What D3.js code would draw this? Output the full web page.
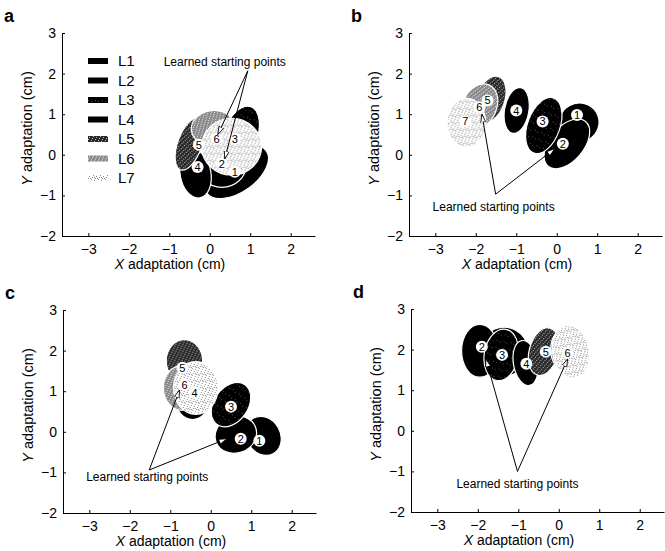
<!DOCTYPE html>
<html>
<head>
<meta charset="utf-8">
<script src="https://cdn.jsdelivr.net/npm/d3@7"></script>
<style>
  body { margin: 0; background: #fff; }
  text { font-family: "Liberation Sans", Arial, sans-serif; }
</style>
</head>
<body>
<svg></svg>
<script>
const SIZE = { width: 665, height: 551 };
const PLOT = { width: 253, height: 203 };

const LEVELS = ['L1', 'L2', 'L3', 'L4', 'L5', 'L6', 'L7'];
const X_TICKS = [-3, -2, -1, 0, 1, 2];
const Y_TICKS = [-2, -1, 0, 1, 2, 3];

// adaptation ellipses per panel (cm): level, centre, semi-axes, tilt, label position
const ellipsesA = [
  { lev: 1, cx: 0.66, cy: -0.42, rx: 0.9, ry: 0.5, rot: -35, lx: 0.62, ly: -0.42 },
  { lev: 2, cx: 0.3, cy: -0.25, rx: 0.6, ry: 0.55, rot: 0, lx: 0.3, ly: -0.22 },
  { lev: 3, cx: 0.75, cy: 0.45, rx: 0.42, ry: 0.78, rot: 20, lx: 0.62, ly: 0.4 },
  { lev: 4, cx: -0.35, cy: -0.47, rx: 0.38, ry: 0.6, rot: -10, lx: -0.3, ly: -0.3 },
  { lev: 5, cx: -0.49, cy: 0.27, rx: 0.3, ry: 0.68, rot: 20, lx: -0.27, ly: 0.25 },
  { lev: 6, cx: 0.07, cy: 0.67, rx: 0.53, ry: 0.42, rot: -10, lx: 0.17, ly: 0.4 },
  { lev: 7, cx: 0.54, cy: 0.2, rx: 0.74, ry: 0.7, rot: 0, lx: null, ly: null }
];
const ellipsesB = [
  { lev: 1, cx: 0.55, cy: 0.79, rx: 0.5, ry: 0.48, rot: -30, lx: 0.5, ly: 0.98 },
  { lev: 2, cx: 0.25, cy: 0.27, rx: 0.72, ry: 0.42, rot: -50, lx: 0.15, ly: 0.27 },
  { lev: 3, cx: -0.32, cy: 0.72, rx: 0.4, ry: 0.72, rot: 20, lx: -0.35, ly: 0.82 },
  { lev: 4, cx: -0.99, cy: 1.09, rx: 0.3, ry: 0.57, rot: 10, lx: -1.0, ly: 1.09 },
  { lev: 5, cx: -1.64, cy: 1.36, rx: 0.35, ry: 0.6, rot: 20, lx: -1.71, ly: 1.34 },
  { lev: 6, cx: -1.91, cy: 1.19, rx: 0.42, ry: 0.58, rot: 25, lx: -1.91, ly: 1.17 },
  { lev: 7, cx: -2.23, cy: 0.79, rx: 0.48, ry: 0.6, rot: 0, lx: -2.26, ly: 0.82 }
];
const ellipsesC = [
  { lev: 1, cx: 1.3, cy: -0.1, rx: 0.42, ry: 0.5, rot: -30, lx: 1.2, ly: -0.22 },
  { lev: 2, cx: 0.62, cy: -0.07, rx: 0.52, ry: 0.45, rot: -20, lx: 0.74, ly: -0.17 },
  { lev: 3, cx: 0.5, cy: 0.67, rx: 0.42, ry: 0.6, rot: 35, lx: 0.5, ly: 0.62 },
  { lev: 4, cx: -0.45, cy: 0.75, rx: 0.4, ry: 0.45, rot: 0, lx: -0.4, ly: 0.96 },
  { lev: 5, cx: -0.65, cy: 1.75, rx: 0.45, ry: 0.52, rot: 0, lx: -0.7, ly: 1.58 },
  { lev: 6, cx: -0.72, cy: 1.08, rx: 0.45, ry: 0.55, rot: 0, lx: -0.65, ly: 1.16 },
  { lev: 7, cx: -0.37, cy: 1.08, rx: 0.55, ry: 0.65, rot: 0, lx: null, ly: null }
];
const ellipsesD = [
  { lev: 1, cx: -1.35, cy: 1.95, rx: 0.6, ry: 0.6, rot: 0, lx: null, ly: null },
  { lev: 2, cx: -1.95, cy: 1.97, rx: 0.45, ry: 0.65, rot: 0, lx: -1.9, ly: 2.07 },
  { lev: 3, cx: -1.42, cy: 1.87, rx: 0.42, ry: 0.64, rot: 10, lx: -1.4, ly: 1.87 },
  { lev: 4, cx: -0.82, cy: 1.67, rx: 0.3, ry: 0.56, rot: -10, lx: -0.8, ly: 1.65 },
  { lev: 5, cx: -0.37, cy: 1.95, rx: 0.36, ry: 0.6, rot: 15, lx: -0.32, ly: 1.95 },
  { lev: 6, cx: 0.2, cy: 2.0, rx: 0.4, ry: 0.55, rot: 0, lx: 0.22, ly: 1.92 },
  { lev: 7, cx: 0.3, cy: 1.95, rx: 0.45, ry: 0.66, rot: -10, lx: null, ly: null }
];

// "Learned starting points" callouts (cm)
const startA = { text: [0.37, 2.19], apex: [0.94, 2.07], tips: [[0.2, 0.5], [0.37, -0.1]] };
const startB = { text: [-1.56, -1.38], apex: [-1.51, -0.97], tips: [[-1.85, 1.0], [-0.05, 0.15]] };
const startC = { text: [-1.57, -1.21], apex: [-1.52, -0.94], tips: [[-0.77, 1.03], [0.4, -0.17]] };
const startD = { text: [-1.02, -1.4], apex: [-1.02, -1.0], tips: [[-1.8, 1.77], [0.22, 1.77]] };

const PANELS = [
  { id: 'a', left: 62, top: 33, ell: ellipsesA, ann: startA, legend: true },
  { id: 'b', left: 409, top: 33, ell: ellipsesB, ann: startB },
  { id: 'c', left: 63, top: 310, ell: ellipsesC, ann: startC },
  { id: 'd', left: 411, top: 309, ell: ellipsesD, ann: startD }
];

const x = d3.scaleLinear().domain([-3.65, 2.6]).range([0, PLOT.width]);
const y = d3.scaleLinear().domain([-2, 3]).range([PLOT.height, 0]);
const kx = x(1) - x(0);
const ky = y(0) - y(1);

const svg = d3.select('svg')
  .attr('width', SIZE.width)
  .attr('height', SIZE.height)
  .style('background', '#fff');

const defs = svg.append('defs');

// stipple textures for the lighter levels
const DOTS = [[0, 0], [3, 1], [5, 4], [1, 5], [4, 6], [6, 2], [2, 3]];
const stipple = function(id, bg, dot, pts) {
  const p = defs.append('pattern')
    .attr('id', id)
    .attr('width', 7).attr('height', 7)
    .attr('patternUnits', 'userSpaceOnUse');
  p.append('rect').attr('width', 7).attr('height', 7).attr('fill', bg);
  pts.forEach(([a, b]) => p.append('rect')
    .attr('x', a).attr('y', b).attr('width', 1).attr('height', 1).attr('fill', dot));
};
stipple('tex3', '#000', '#555', DOTS.slice(0, 2));
stipple('tex5', '#2a2a2a', '#bbb', DOTS);
stipple('tex6', '#8a8a8a', '#eee', DOTS);
stipple('tex7', '#fff', '#8a8a8a', DOTS.concat([[6, 6], [2, 0]]));

const FILLS = ['#000', '#000', 'url(#tex3)', '#000', 'url(#tex5)', 'url(#tex6)', 'url(#tex7)'];

defs.append('marker')
  .attr('id', 'tri')
  .attr('markerUnits', 'userSpaceOnUse')
  .attr('markerWidth', 10).attr('markerHeight', 8)
  .attr('refX', 8).attr('refY', 3)
  .attr('orient', 'auto')
  .append('path')
  .attr('d', 'M0,0.5 L8,3 L0,5.5 Z')
  .attr('fill', '#fff')
  .attr('stroke', '#000')
  .attr('stroke-width', 0.8);

const drawPanel = function(p) {
  const g = svg.append('g').attr('transform', `translate(${p.left},${p.top})`);

  g.append('text')
    .attr('x', -58).attr('y', -11)
    .attr('font-size', 18).attr('font-weight', 'bold')
    .text(p.id);

  // ellipses, L1 at the back
  g.selectAll('ellipse')
    .data(p.ell)
    .join('ellipse')
    .attr('transform', d => `translate(${x(d.cx)},${y(d.cy)}) rotate(${d.rot})`)
    .attr('rx', d => d.rx * kx)
    .attr('ry', d => d.ry * ky)
    .attr('fill', d => FILLS[d.lev - 1])
    .attr('stroke', '#fff')
    .attr('stroke-width', 1.2);

  const lab = g.selectAll('.lab')
    .data(p.ell.filter(d => d.lx !== null))
    .join('g')
    .attr('class', 'lab')
    .attr('transform', d => `translate(${x(d.lx)},${y(d.ly)})`);
  lab.append('circle').attr('r', 6).attr('fill', '#fff');
  lab.append('text')
    .attr('text-anchor', 'middle').attr('dy', '0.36em')
    .attr('font-size', 11)
    .text(d => d.lev);

  // learned starting points callout
  p.ann.tips.forEach(t => {
    g.append('line')
      .attr('x1', x(p.ann.apex[0])).attr('y1', y(p.ann.apex[1]))
      .attr('x2', x(t[0])).attr('y2', y(t[1]))
      .attr('stroke', '#000').attr('stroke-width', 1)
      .attr('marker-end', 'url(#tri)');
  });
  g.append('text')
    .attr('x', x(p.ann.text[0])).attr('y', y(p.ann.text[1]))
    .attr('text-anchor', 'middle')
    .attr('font-size', 12)
    .text('Learned starting points');

  // axes
  const fmt = d3.format('d');
  const xAxis = d3.axisBottom(x).tickValues(X_TICKS).tickFormat(fmt)
    .tickSizeInner(-3).tickSizeOuter(0).tickPadding(8);
  const yAxis = d3.axisLeft(y).tickValues(Y_TICKS).tickFormat(fmt)
    .tickSizeInner(-3).tickSizeOuter(0).tickPadding(6);

  g.append('g')
    .attr('transform', `translate(0,${PLOT.height})`)
    .call(xAxis)
    .call(s => s.selectAll('text').attr('font-size', 14).attr('fill', '#000'))
    .call(s => s.selectAll('path,line').attr('stroke', '#000'));

  g.append('g')
    .call(yAxis)
    .call(s => s.selectAll('text').attr('font-size', 14).attr('fill', '#000'))
    .call(s => s.selectAll('path,line').attr('stroke', '#000'));

  const xt = g.append('text')
    .attr('x', 108).attr('y', PLOT.height + 33)
    .attr('text-anchor', 'middle')
    .attr('font-size', 14);
  xt.append('tspan').attr('font-style', 'italic').text('X');
  xt.append('tspan').text(' adaptation (cm)');

  const yt = g.append('text')
    .attr('transform', `translate(-30,${PLOT.height / 2 - 6}) rotate(-90)`)
    .attr('text-anchor', 'middle')
    .attr('font-size', 14.5);
  yt.append('tspan').attr('font-style', 'italic').text('Y');
  yt.append('tspan').text(' adaptation (cm)');

  if (p.legend) {
    const lg = g.selectAll('.legend')
      .data(LEVELS)
      .join('g')
      .attr('class', 'legend')
      .attr('transform', (d, i) => `translate(26,${28 + i * 19.5})`);
    lg.append('rect')
      .attr('y', -3).attr('width', 20).attr('height', 6)
      .attr('fill', (d, i) => FILLS[i]);
    lg.append('text')
      .attr('x', 30).attr('dy', '0.36em')
      .attr('font-size', 15)
      .text(d => d);
  }
};

PANELS.forEach(drawPanel);
</script>
</body>
</html>
